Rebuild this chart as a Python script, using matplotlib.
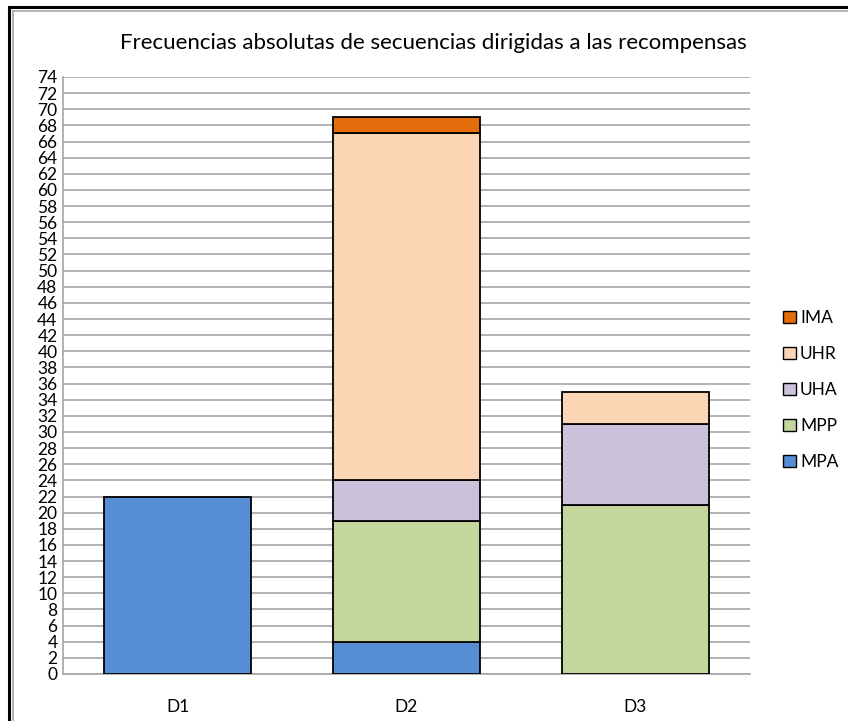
import matplotlib.pyplot as plt
from matplotlib.lines import Line2D
import numpy as np

plt.rcParams['font.family'] = ['Lato', 'DejaVu Sans']

groups = ["D1", "D2", "D3"]
series = ["MPA", "MPP", "UHA", "UHR", "IMA"]
mpa = [22, 4, 0]
mpp = [0, 15, 21]
uha = [0, 5, 10]
uhr = [0, 43, 4]
ima = [0, 2, 0]
colors = ["#558ed5", "#c3d69b", "#ccc1da", "#fcd5b5", "#e46c0a"]
y_ticks = list(range(0, 75, 2))

W, H = 848, 721
fig = plt.figure(figsize=(W / 100, H / 100), dpi=100)
ax = fig.add_axes([63 / W, 1 - 674 / H, (750 - 63) / W, (674 - 77) / H])

x = np.arange(len(groups))
bottom = np.zeros(len(groups))
handles = []
for name, vals, col in zip(series, [mpa, mpp, uha, uhr, ima], colors):
    vals = np.array(vals, dtype=float)
    mask = vals > 0
    ax.bar(x[mask], vals[mask], bottom=bottom[mask], width=0.64,
           color=col, edgecolor="black", linewidth=1.3, zorder=3)
    bottom += vals
    handles.append(plt.Rectangle((0, 0), 1, 1, facecolor=col,
                                 edgecolor="black", linewidth=1.0))

ax.set_xlim(-0.5, 2.5)
ax.set_ylim(0, 74)
ax.set_yticks(y_ticks)
ax.set_xticks(x)
ax.set_xticklabels(groups)
ax.tick_params(axis="both", length=0, labelsize=12.5, colors="black")
ax.tick_params(axis="y", pad=4)
ax.tick_params(axis="x", pad=18)
ax.yaxis.grid(True, color="#a6a6a6", linewidth=1.2, zorder=0)
for side in ["top", "right"]:
    ax.spines[side].set_visible(False)
for side in ["left", "bottom"]:
    ax.spines[side].set_color("#a6a6a6")
    ax.spines[side].set_linewidth(1.2)

fig.text(433 / W, 1 - 43 / H,
         "Frecuencias absolutas de secuencias dirigidas a las recompensas",
         ha="center", va="center", fontsize=16)

leg = fig.legend(handles[::-1], series[::-1], loc="center left",
                 bbox_to_anchor=(767 / W, 1 - 390 / H), frameon=False,
                 fontsize=12.5, handlelength=0.75, handleheight=0.75,
                 labelspacing=1.15, handletextpad=0.25)

# outer frame: heavy black edge with a thin grey line inside
fig.add_artist(Line2D([8.5 / W, 8.5 / W], [0, 1 - 6.5 / H],
                      color="black", linewidth=2.2))
fig.add_artist(Line2D([8.5 / W, 1], [1 - 6.5 / H, 1 - 6.5 / H],
                      color="black", linewidth=2.2))
fig.add_artist(Line2D([12.5 / W, 12.5 / W], [0, 1 - 10.5 / H],
                      color="#a6a6a6", linewidth=1.2))
fig.add_artist(Line2D([12.5 / W, 1], [1 - 10.5 / H, 1 - 10.5 / H],
                      color="#a6a6a6", linewidth=1.2))

fig.savefig("out.png", dpi=100)
